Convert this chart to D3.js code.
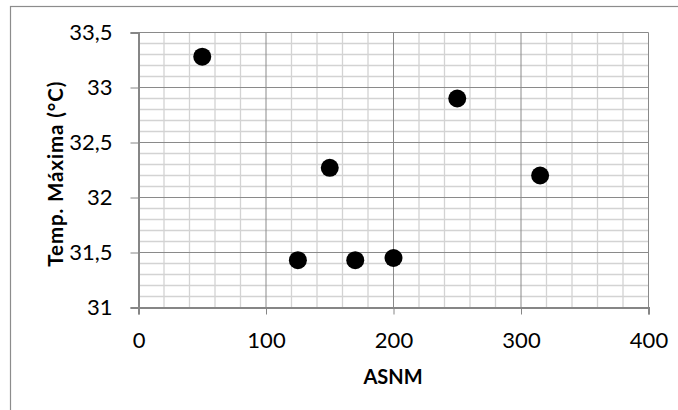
<!DOCTYPE html>
<html><head><meta charset="utf-8">
<script src="https://cdn.jsdelivr.net/npm/d3@7"></script>
<style>body{margin:0;background:#fff}svg{display:block}text{font-family:Lato,"Open Sans",sans-serif}</style>
</head><body><svg id="c" width="678" height="410"></svg>
<script>
const asnm = [50, 125, 150, 170, 200, 250, 315];
const tempMax = [33.28, 31.43, 32.27, 31.43, 31.45, 32.9, 32.2];
const xTicks = [0, 100, 200, 300, 400];
const yTicks = [31, 31.5, 32, 32.5, 33, 33.5];
const xTitle = "ASNM";
const yTitle = "Temp. Máxima (°C)";

const svg = d3.select("#c");
const L = 138.5, R = 648.5, T = 32.5, B = 307.5;
const x = d3.scaleLinear().domain([0, 400]).range([L, R]);
const y = d3.scaleLinear().domain([31, 33.5]).range([B, T]);

// outer chart border
svg.append("rect").attr("x", 10.5).attr("y", 6.5).attr("width", 700).attr("height", 420)
  .attr("fill", "none").attr("stroke", "#8c8c8c").attr("stroke-width", 1.2);

const g = svg.append("g");
// minor grid
const xMinor = d3.range(0, 401, 20).filter(v => v % 100 !== 0);
const yMinor = d3.range(310, 335, 1).map(v => v / 10).filter(v => Math.abs(v * 2 - Math.round(v * 2)) > 1e-6);
g.selectAll(".xm").data(xMinor).join("line")
  .attr("x1", d => x(d)).attr("x2", d => x(d)).attr("y1", T).attr("y2", B)
  .attr("stroke", "#d3d3d3").attr("stroke-width", 1.3);
g.selectAll(".ym").data(yMinor).join("line")
  .attr("x1", L).attr("x2", R).attr("y1", d => y(d)).attr("y2", d => y(d))
  .attr("stroke", "#d3d3d3").attr("stroke-width", 1.3);
// major grid
g.selectAll(".xM").data(xTicks.slice(1)).join("line")
  .attr("x1", d => x(d)).attr("x2", d => x(d)).attr("y1", T).attr("y2", B)
  .attr("stroke", "#8a8a8a").attr("stroke-width", 1);
g.selectAll(".yM").data(yTicks.slice(1)).join("line")
  .attr("x1", L).attr("x2", R).attr("y1", d => y(d)).attr("y2", d => y(d))
  .attr("stroke", "#8a8a8a").attr("stroke-width", 1);

const fmt = d => String(d).replace(".", ",");
// axes
const xAxis = svg.append("g").attr("transform", `translate(0,${B})`)
  .call(d3.axisBottom(x).tickValues(xTicks).tickSize(7).tickPadding(18).tickFormat(fmt));
const yAxis = svg.append("g").attr("transform", `translate(${L},0)`)
  .call(d3.axisLeft(y).tickValues(yTicks).tickSize(8).tickPadding(18).tickFormat(fmt));
[xAxis, yAxis].forEach(a => {
  a.select(".domain").attr("stroke", "#868686").attr("stroke-width", 2);
  a.selectAll(".tick line").attr("stroke", "#868686").attr("stroke-width", 1);
  a.selectAll("text").attr("fill", "#000").style("font-size", "22px").style("font-family", "Lato, sans-serif");
});
xAxis.selectAll("text").attr("dy", "0.71em");

svg.append("text").attr("x", 393).attr("y", 384).attr("text-anchor", "middle")
  .attr("font-weight", "bold").attr("font-size", 20).text(xTitle);
svg.append("text").attr("transform", `translate(62.7,174.2) rotate(-90)`)
  .attr("text-anchor", "middle").attr("font-weight", "bold").attr("font-size", 20.5)
  .attr("textLength", 185).attr("lengthAdjust", "spacing").text(yTitle);

// points
svg.selectAll(".pt").data(asnm.map((a, i) => [a, tempMax[i]])).join("circle")
  .attr("cx", d => x(d[0])).attr("cy", d => y(d[1])).attr("r", 9).attr("fill", "#000");
</script></body></html>
